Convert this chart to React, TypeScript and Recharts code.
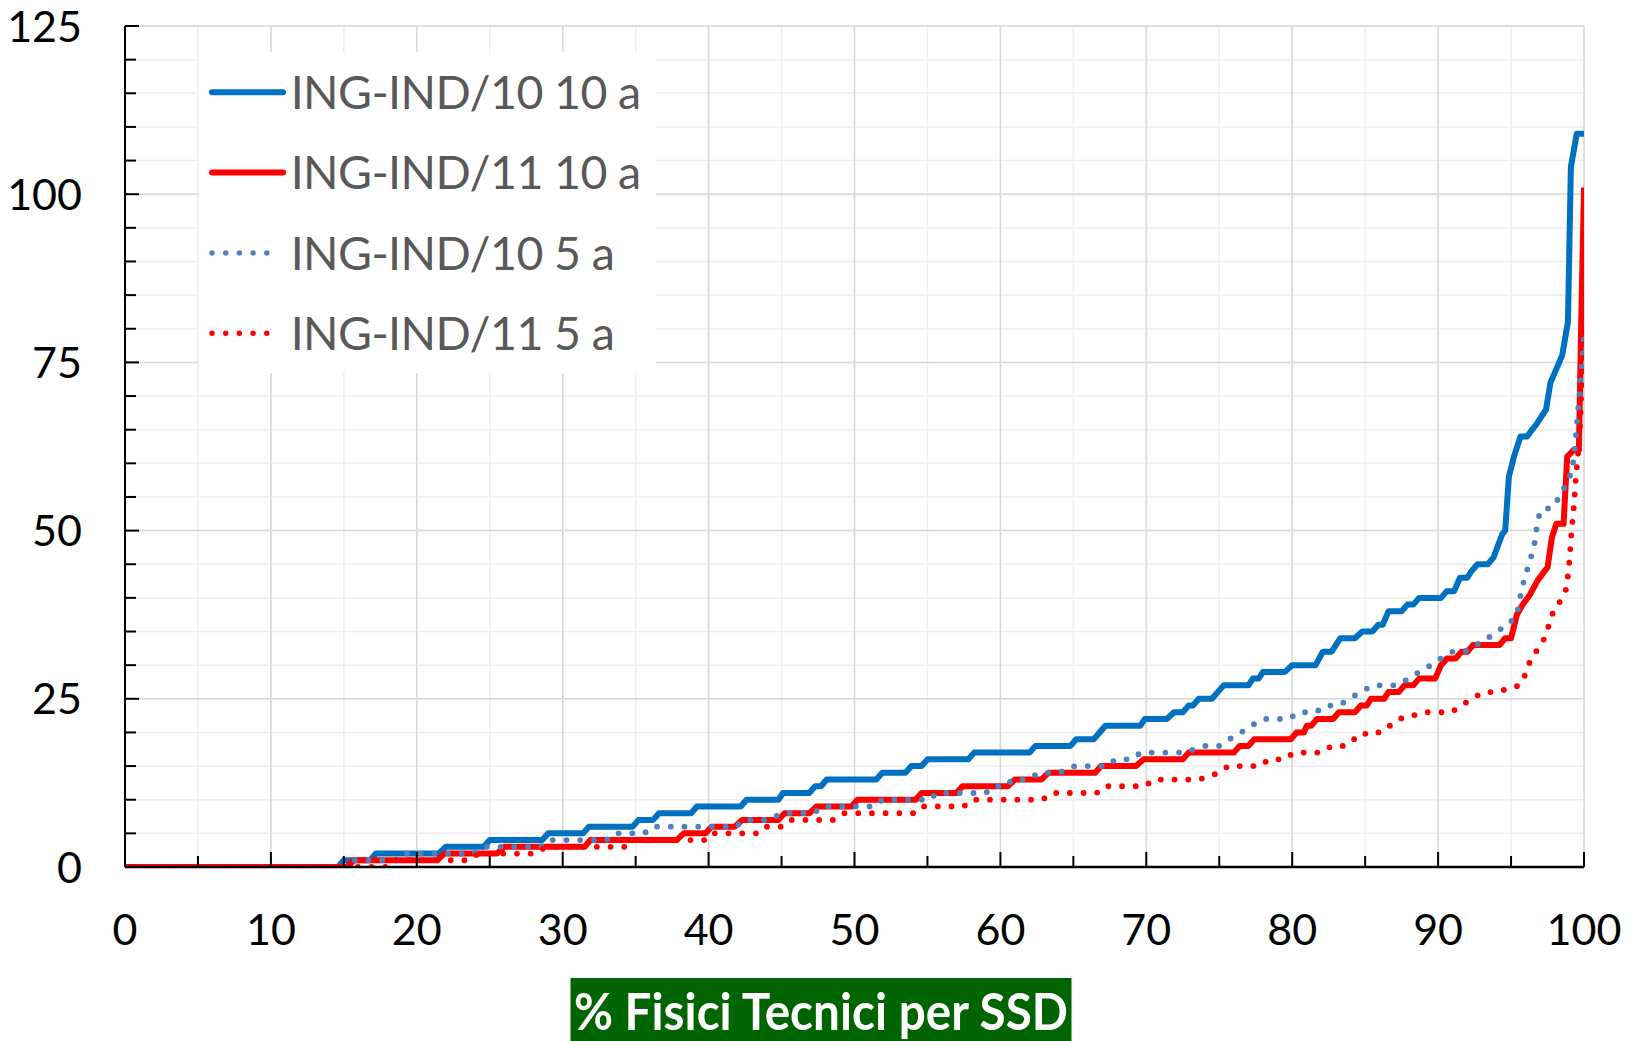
import React from "react";
import {
  LineChart,
  Line,
  XAxis,
  YAxis,
  CartesianGrid,
  Legend,
  Label,
} from "recharts";

// [percentile, value] break points
const ingInd10Ten: [number, number][] = [
  [0, 0], [14.6, 0], [15.0, 1], [16.8, 1], [17.2, 2], [21.5, 2], [22.0, 3], [24.6, 3],
  [25.0, 4], [28.6, 4], [29.0, 5], [31.4, 5], [31.8, 6], [34.8, 6], [35.2, 7], [36.2, 7],
  [36.6, 8], [38.8, 8], [39.2, 9], [42.2, 9], [42.6, 10], [44.8, 10], [45.1, 11], [46.9, 11],
  [47.3, 12], [47.7, 12], [48.1, 13], [51.5, 13], [51.9, 14], [53.5, 14], [53.9, 15], [54.6, 15],
  [55.0, 16], [57.8, 16], [58.2, 17], [62.0, 17], [62.4, 18], [64.8, 18], [65.2, 19], [66.4, 19],
  [67.2, 21], [69.6, 21], [69.9, 22], [71.4, 22], [71.9, 23], [72.5, 23], [72.9, 24], [73.2, 24],
  [73.6, 25], [74.5, 25], [75.3, 27], [77.0, 27], [77.3, 28], [77.7, 28], [78.0, 29], [79.5, 29],
  [80.0, 30], [81.6, 30], [82.1, 32], [82.7, 32], [83.3, 34], [84.3, 34], [84.8, 35], [85.5, 35],
  [85.9, 36], [86.2, 36], [86.6, 38], [87.5, 38], [87.9, 39], [88.3, 39], [88.7, 40], [90.2, 40],
  [90.6, 41], [91.1, 41], [91.5, 43], [92.0, 43], [92.3, 44], [92.7, 45], [93.4, 45], [93.8, 46],
  [94.4, 49.5], [94.6, 50], [94.85, 58], [95.2, 61], [95.65, 64], [96.1, 64], [96.8, 66],
  [97.4, 68], [97.7, 72], [98.5, 76], [98.9, 81], [99.1, 104], [99.5, 109], [100, 109],
];

const ingInd11Ten: [number, number][] = [
  [0, 0], [15.2, 0], [15.7, 1], [21.4, 1], [21.9, 2], [25.5, 2], [26.0, 3], [31.5, 3],
  [31.9, 4], [37.8, 4], [38.3, 5], [39.8, 5], [40.2, 6], [41.8, 6], [42.3, 7], [44.8, 7],
  [45.2, 8], [46.9, 8], [47.4, 9], [49.8, 9], [50.2, 10], [54.2, 10], [54.6, 11], [57.0, 11],
  [57.4, 12], [60.5, 12], [61.0, 13], [62.8, 13], [63.3, 14], [66.5, 14], [66.9, 15], [69.3, 15],
  [69.8, 16], [72.5, 16], [72.9, 17], [76.0, 17], [76.4, 18], [77.0, 18], [77.4, 19], [79.9, 19],
  [80.3, 20], [80.8, 20], [81.0, 21], [81.3, 21], [81.7, 22], [82.8, 22], [83.2, 23], [84.3, 23],
  [84.7, 24], [85.1, 24], [85.4, 25], [86.3, 25], [86.6, 26], [87.3, 26], [87.7, 27], [88.3, 27],
  [88.7, 28], [89.8, 28], [90.2, 30], [90.6, 31], [91.2, 31], [91.6, 32], [92.0, 32], [92.4, 33],
  [94.2, 33], [94.6, 34], [95.0, 34], [95.4, 37.5], [95.8, 39], [96.3, 40.5], [96.8, 42.5],
  [97.3, 44], [97.5, 44.5], [97.8, 49], [98.1, 51], [98.6, 51], [98.85, 61], [99.3, 62],
  [99.65, 62], [99.8, 80], [100, 101],
];

const ingInd10Five: [number, number][] = [
  [0, 0], [15.2, 0], [15.6, 1], [18.6, 1], [19.1, 2], [23.9, 2], [24.5, 3], [28.5, 3],
  [29.0, 4], [33.0, 4], [33.5, 5], [35.6, 5], [36.1, 6], [41.9, 6], [42.4, 7], [44.2, 7],
  [45.0, 8], [47.2, 8], [47.8, 9], [51.4, 9], [51.9, 10], [55.2, 10], [55.6, 11], [59.0, 11],
  [59.5, 12], [60.4, 12], [60.8, 13], [61.9, 13], [62.6, 14], [64.0, 14], [65.1, 15], [67.3, 15],
  [67.9, 16], [69.0, 16], [69.6, 17], [72.6, 17], [74.0, 18], [75.0, 18], [75.7, 19], [76.5, 20],
  [77.2, 21], [78.0, 22], [79.8, 22], [80.4, 23], [81.6, 23], [82.3, 24], [83.2, 24], [83.9, 25],
  [84.7, 26], [85.5, 27], [87.2, 27], [88.0, 28], [88.7, 29], [89.5, 30], [90.2, 31], [91.0, 32],
  [91.8, 32], [92.6, 33], [93.4, 34], [94.0, 35], [94.8, 36], [95.4, 37.5], [95.7, 41],
  [96.0, 43.5], [96.3, 45.5], [96.6, 48], [96.8, 51], [97.0, 53], [97.9, 53.5], [98.3, 55],
  [98.8, 57], [99.2, 59], [99.4, 63], [99.6, 68], [99.8, 73], [100, 79],
];

const ingInd11Five: [number, number][] = [
  [0, 0], [18.1, 0], [18.5, 1], [23.6, 1], [24.2, 2], [28.2, 2], [28.8, 3], [34.4, 3],
  [35.0, 4], [40.0, 4], [40.4, 5], [43.4, 5], [43.9, 6], [45.1, 6], [45.6, 7], [48.6, 7],
  [49.3, 8], [54.1, 8], [54.6, 9], [57.5, 9], [58.0, 10], [62.9, 10], [63.5, 11], [66.6, 11],
  [67.1, 12], [69.9, 12], [70.5, 13], [73.6, 13], [75.0, 14], [75.6, 15], [77.8, 15], [78.4, 16],
  [79.5, 16], [80.1, 17], [82.0, 17], [82.7, 18], [83.6, 18], [84.2, 19], [84.7, 19], [85.1, 20],
  [86.1, 20], [86.7, 21], [87.3, 22], [88.1, 22.4], [89.0, 23], [90.9, 23], [91.6, 24],
  [92.3, 25], [93.1, 26], [94.0, 26], [94.8, 26.5], [95.6, 27], [96.0, 28.7], [96.3, 30.6],
  [96.8, 32.3], [97.3, 34], [97.6, 36], [97.9, 38], [98.4, 39.6], [98.8, 41.4], [99.0, 45.4],
  [99.15, 50], [99.3, 53.5], [99.45, 58], [99.7, 64], [100, 80],
];

const seriesNames = ["ING-IND/10 10 a", "ING-IND/11 10 a", "ING-IND/10 5 a", "ING-IND/11 5 a"];

const xTicks = [0, 5, 10, 15, 20, 25, 30, 35, 40, 45, 50, 55, 60, 65, 70, 75, 80, 85, 90, 95, 100];
const xMajor = [0, 10, 20, 30, 40, 50, 60, 70, 80, 90, 100];
const yTicks = [0, 5, 10, 15, 20, 25, 30, 35, 40, 45, 50, 55, 60, 65, 70, 75, 80, 85, 90, 95, 100, 105, 110, 115, 120, 125];
const yMajor = [0, 25, 50, 75, 100, 125];

const axisTitle = "% Fisici Tecnici per SSD";

const toPoints = (rows: [number, number][]) => rows.map(([x, y]) => ({ x, y }));

const W = 1639;
const H = 1041;
const DOTS = "0 13.7";

const XTick = (props: any) => {
  const { x, y, payload } = props;
  const v = payload.value;
  const major = v % 10 === 0;
  return (
    <g>
      <line x1={x} x2={x} y1={y} y2={y - (major ? 15 : 11)} stroke="#000" strokeWidth={2} />
      {major && (
        <text x={x} y={y + 78} textAnchor="middle" fontSize={43} fill="#000">
          {v}
        </text>
      )}
    </g>
  );
};

const YTick = (props: any) => {
  const { x, y, payload } = props;
  const v = payload.value;
  const major = v % 25 === 0;
  return (
    <g>
      <line x1={x} x2={x + (major ? 14 : 11)} y1={y} y2={y} stroke="#000" strokeWidth={2} />
      {major && (
        <text x={x - 43} y={y} dy={15.5} textAnchor="end" fontSize={43} fill="#000">
          {v}
        </text>
      )}
    </g>
  );
};

const LegendBox = (props: any) => {
  const payload = props.payload || [];
  const items = seriesNames
    .map((n) => payload.find((p: any) => p.value === n))
    .filter(Boolean);
  return (
    <svg width={457} height={321} style={{ display: "block" }}>
      <rect width={457} height={321} fill="#fff" />
      {items.map((e: any, i: number) => {
        const cy = 40.3 + i * 80.3;
        const dash = e.payload?.strokeDasharray;
        return (
          <g key={e.value}>
            <line
              x1={13}
              x2={dash ? 68 : 84}
              y1={cy}
              y2={cy}
              stroke={e.color}
              strokeWidth={dash ? 5.5 : 6}
              strokeDasharray={dash}
              strokeLinecap="round"
            />
            <text x={91.7} y={cy + 16.7} fontSize={46.5} letterSpacing={-0.6} fill="#595959">
              {e.value}
            </text>
          </g>
        );
      })}
    </svg>
  );
};

const TitleBox = () => (
  <g>
    <rect x={570.5} y={978} width={501} height={70} fill="#006400" />
    <text
      x={821}
      y={1029.5}
      textAnchor="middle"
      fontSize={51}
      fontWeight={700}
      fill="#fff"
      textLength={494}
      lengthAdjust="spacingAndGlyphs"
    >
      {axisTitle}
    </text>
  </g>
);

export default function App() {
  return (
    <div style={{ position: "absolute", left: 0, top: 0, width: W, height: H, background: "#fff", fontFamily: "Lato, 'Open Sans', sans-serif" }}>
      <LineChart width={W} height={H} margin={{ top: 26, right: 55, bottom: 0, left: 0 }}>
        <CartesianGrid stroke="#EEEEEE" strokeWidth={1.5} horizontalValues={yTicks} verticalValues={xTicks} />
        <CartesianGrid stroke="#D9D9D9" strokeWidth={1.5} horizontalValues={yMajor} verticalValues={xMajor} />
        <XAxis
          type="number"
          dataKey="x"
          domain={[0, 100]}
          ticks={xTicks}
          interval={0}
          height={174}
          tickSize={0}
          tickMargin={0}
          tickLine={false}
          tick={(p: any) => <XTick {...p} />}
          axisLine={{ stroke: "#000", strokeWidth: 2.5 }}
          allowDataOverflow
        >
          <Label content={() => <TitleBox />} />
        </XAxis>
        <YAxis
          type="number"
          domain={[0, 125]}
          ticks={yTicks}
          interval={0}
          width={125}
          tickSize={0}
          tickMargin={0}
          tickLine={false}
          tick={(p: any) => <YTick {...p} />}
          axisLine={{ stroke: "#000", strokeWidth: 2 }}
          allowDataOverflow
        />
        <Legend
          layout="vertical"
          align="center"
          verticalAlign="middle"
          width={457}
          wrapperStyle={{ left: 199, top: 52, width: 457, height: 321 }}
          content={(p: any) => <LegendBox {...p} />}
        />
        <Line
          data={toPoints(ingInd10Ten)}
          dataKey="y"
          name={seriesNames[0]}
          type="linear"
          stroke="#0070C0"
          strokeWidth={6}
          strokeLinejoin="round"
          dot={false}
          activeDot={false}
          isAnimationActive={false}
        />
        <Line
          data={toPoints(ingInd11Ten)}
          dataKey="y"
          name={seriesNames[1]}
          type="linear"
          stroke="#FF0000"
          strokeWidth={6}
          strokeLinejoin="round"
          dot={false}
          activeDot={false}
          isAnimationActive={false}
        />
        <Line
          data={toPoints(ingInd10Five)}
          dataKey="y"
          name={seriesNames[2]}
          type="linear"
          stroke="#4F81BD"
          strokeWidth={5.8}
          strokeDasharray={DOTS}
          strokeLinecap="round"
          strokeLinejoin="round"
          dot={false}
          activeDot={false}
          isAnimationActive={false}
        />
        <Line
          data={toPoints(ingInd11Five)}
          dataKey="y"
          name={seriesNames[3]}
          type="linear"
          stroke="#FF0000"
          strokeWidth={5.8}
          strokeDasharray={DOTS}
          strokeLinecap="round"
          strokeLinejoin="round"
          dot={false}
          activeDot={false}
          isAnimationActive={false}
        />
      </LineChart>
    </div>
  );
}
